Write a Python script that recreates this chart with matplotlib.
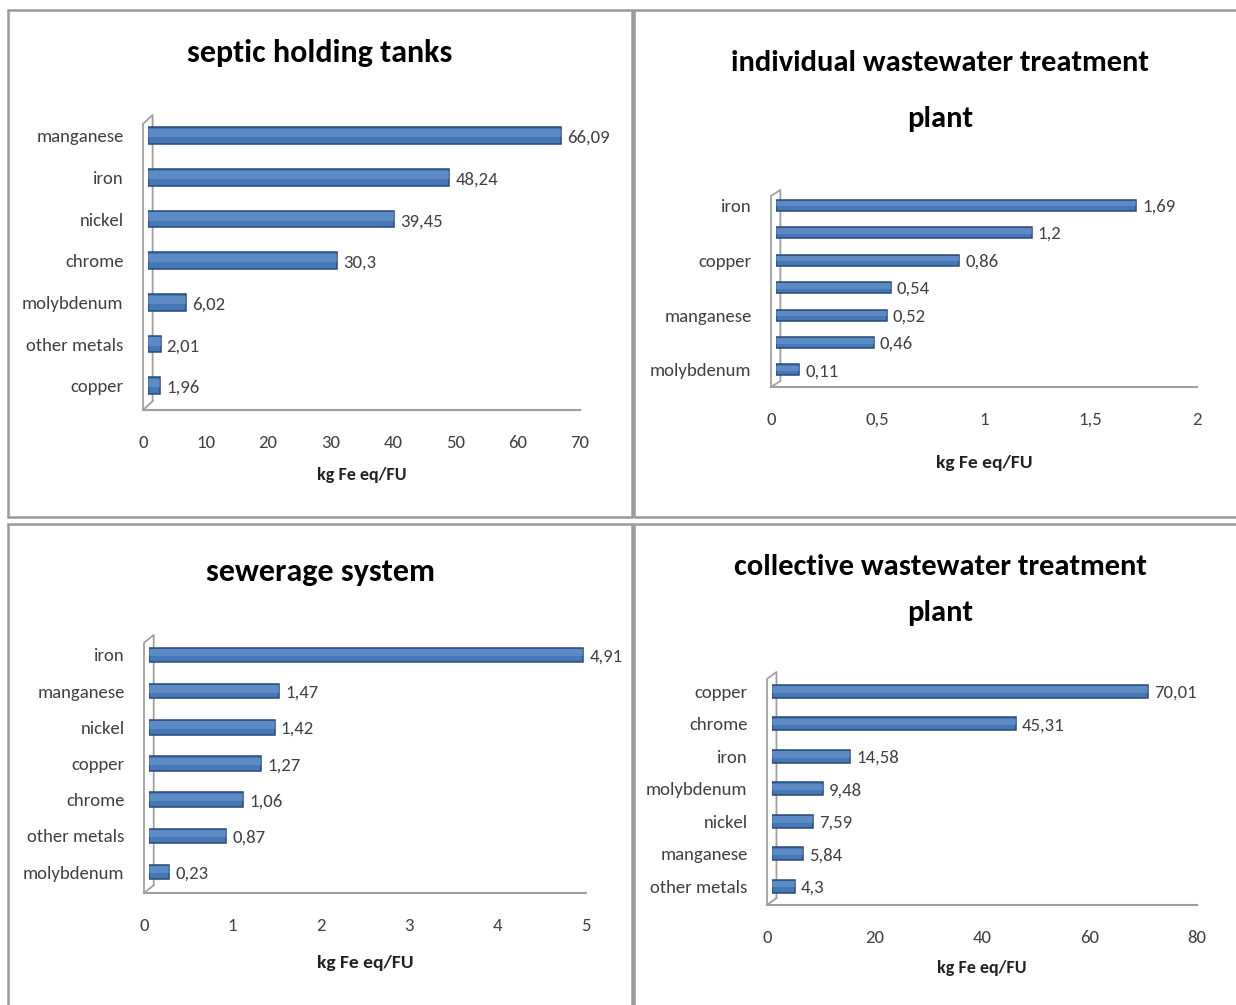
import matplotlib
matplotlib.use('Agg')
import matplotlib.pyplot as plt
from matplotlib.patches import Rectangle

plt.rcParams['font.family'] = ['Carlito', 'Lato', 'DejaVu Sans']

W, H = 1236, 1005

# data
septic_metals = ['copper', 'other metals', 'molybdenum', 'chrome', 'nickel', 'iron', 'manganese']
septic_values = [1.96, 2.01, 6.02, 30.3, 39.45, 48.24, 66.09]

individual_metals = ['molybdenum', 'other metals', 'manganese', 'nickel', 'copper', 'chrome', 'iron']
individual_values = [0.11, 0.46, 0.52, 0.54, 0.86, 1.2, 1.69]

sewerage_metals = ['molybdenum', 'other metals', 'chrome', 'copper', 'nickel', 'manganese', 'iron']
sewerage_values = [0.23, 0.87, 1.06, 1.27, 1.42, 1.47, 4.91]

collective_metals = ['other metals', 'manganese', 'nickel', 'molybdenum', 'iron', 'chrome', 'copper']
collective_values = [4.3, 5.84, 7.59, 9.48, 14.58, 45.31, 70.01]

BAR = '#4677b6'
EDGE = '#284a78'
LIGHT = '#6f9ad3'
GREY = '#404040'
FRAME = '#a0a0a0'

fig = plt.figure(figsize=(W / 100, H / 100), dpi=100)


def fx(x):
    return x / W


def fy(y):
    return 1 - y / H


def border(x0, y0, x1, y1):
    fig.patches.append(Rectangle((fx(x0), fy(y1)), fx(x1 - x0), (y1 - y0) / H,
                                 transform=fig.transFigure, fill=False,
                                 edgecolor='#9a9a9a', linewidth=1.8))


def panel(bx0, bx1, px0, px1, ptop, pfloor, ylo, yhi, xmax, xticks, xticklabels,
          metals, values, title, title_y, xlabel_y, title_size=23, xlabel_size=13,
          linespacing=1.75, every_other=False):
    # frame axes: floor, wall and tick labels
    ax = fig.add_axes([fx(px0), fy(pfloor), fx(px1 - px0), (pfloor - ptop) / H])
    idx = list(range(len(metals)))
    ax.set_xlim(0, xmax)
    ax.set_ylim(ylo, yhi)
    ax.set_yticks(idx)
    if every_other:
        ax.set_yticklabels([m if i % 2 == 0 else '' for i, m in enumerate(metals)])
    else:
        ax.set_yticklabels(metals)
    ax.set_xticks(xticks)
    ax.set_xticklabels(xticklabels)
    ax.tick_params(length=0, labelsize=13.5, colors=GREY, pad=14)
    ax.tick_params(axis='x', pad=18)
    for s in ['top', 'right', 'left']:
        ax.spines[s].set_visible(False)
    ax.spines['bottom'].set_color(FRAME)
    ax.spines['bottom'].set_linewidth(1.5)
    ax.plot([0.0, 0.0, 0.022, 0.022], [0.0, 0.97, 1.0, 0.03], transform=ax.transAxes,
            color=FRAME, linewidth=1.3, clip_on=False, zorder=2)
    ax.plot([0.0, 0.022], [0.0, 0.03], transform=ax.transAxes,
            color=FRAME, linewidth=1.3, clip_on=False, zorder=2)

    # bar axes, shifted by the 3d depth
    dx = 5
    bx = fig.add_axes([fx(px0 + dx), fy(pfloor), fx(px1 - px0), (pfloor - ptop) / H])
    bx.set_xlim(0, xmax)
    bx.set_ylim(ylo, yhi)
    bx.axis('off')
    bx.barh(idx, values, height=0.4, color=BAR, edgecolor=EDGE, linewidth=1.1, zorder=3)
    bx.barh([i + 0.06 for i in idx], values, height=0.2, color=LIGHT,
            linewidth=0, zorder=4, alpha=0.55)
    for i, v in zip(idx, values):
        lab = str(v).replace('.', ',')
        bx.text(v + xmax * 0.014, i - 0.05, lab, va='center', ha='left', fontsize=13.5,
                color=GREY, zorder=5, clip_on=False)

    fig.text(fx((bx0 + bx1) / 2), fy(title_y), title, ha='center', va='center',
             fontsize=title_size, fontweight='bold', color='black',
             linespacing=linespacing)
    fig.text(fx((px0 + px1) / 2), fy(xlabel_y), 'kg Fe eq/FU', ha='center',
             va='center', fontsize=xlabel_size, fontweight='bold', color='#222222')
    return ax


border(8, 10, 632, 517)
border(634, 10, 1240, 517)
border(8, 524, 632, 1010)
border(634, 524, 1240, 1010)

panel(8, 632, 143, 580, 115, 410, -0.58, 6.5, 70, range(0, 71, 10),
      [str(t) for t in range(0, 71, 10)], septic_metals, septic_values,
      'septic holding tanks', 53, 475)

panel(634, 1246, 771, 1197, 190, 387, -0.62, 6.55, 2, [0, 0.5, 1, 1.5, 2],
      ['0', '0,5', '1', '1,5', '2'], individual_metals, individual_values,
      'individual wastewater treatment\nplant', 91, 463, title_size=22,
      xlabel_size=14, linespacing=2.4, every_other=True)

panel(8, 632, 144, 586, 635, 893, -0.58, 6.55, 5, range(0, 6),
      [str(t) for t in range(0, 6)], sewerage_metals, sewerage_values,
      'sewerage system', 572, 963, xlabel_size=14)

panel(634, 1246, 767, 1197, 672, 905, -0.58, 6.6, 80, range(0, 81, 20),
      [str(t) for t in range(0, 81, 20)], collective_metals, collective_values,
      'collective wastewater treatment\nplant', 590, 968, title_size=22,
      linespacing=1.96)

fig.savefig('out.png', dpi=100)
